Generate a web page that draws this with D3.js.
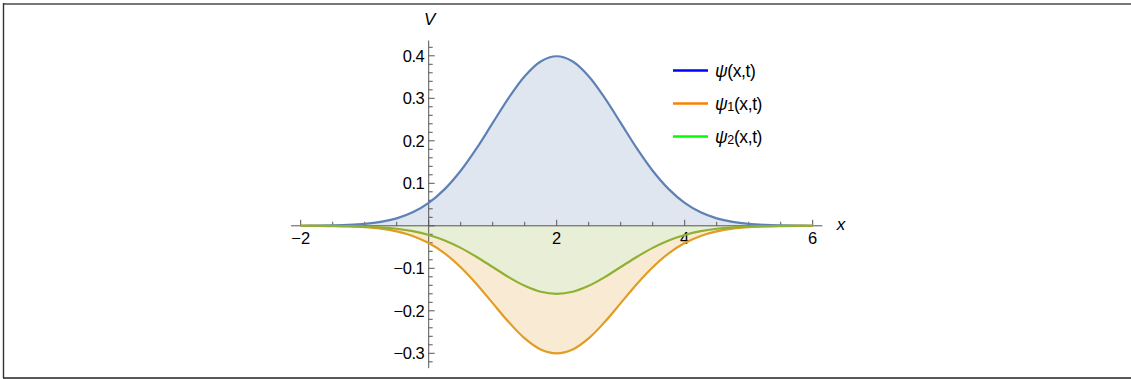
<!DOCTYPE html>
<html><head><meta charset="utf-8">
<script src="https://cdn.jsdelivr.net/npm/d3@7"></script>
<style>
html,body{margin:0;padding:0;background:#fff;}
svg{display:block;}
text{font-family:"Liberation Sans",Arial,sans-serif;}
</style></head>
<body>
<svg id="chart" width="1131" height="379"></svg>
<script>
// ---- data ----
const xs = [-2,-1.75,-1.5,-1.25,-1,-0.75,-0.5,-0.25,0,0.25,0.5,0.75,1,1.25,1.5,1.75,2,
            2.25,2.5,2.75,3,3.25,3.5,3.75,4,4.25,4.5,4.75,5,5.25,5.5,5.75,6];
const psi  = [0.0001,0.0004,0.0009,0.0020,0.0044,0.0091,0.0175,0.0317,0.0540,0.0863,0.1295,0.1826,0.2420,0.3011,0.3521,0.3867,0.3989,
              0.3867,0.3521,0.3011,0.2420,0.1826,0.1295,0.0863,0.0540,0.0317,0.0175,0.0091,0.0044,0.0020,0.0009,0.0004,0.0001];
const psi1 = [-0.0001,-0.0003,-0.0007,-0.0015,-0.0033,-0.0068,-0.0132,-0.0238,-0.0406,-0.0649,-0.0974,-0.1373,-0.1820,-0.2264,-0.2648,-0.2908,-0.3000,
              -0.2908,-0.2648,-0.2264,-0.1820,-0.1373,-0.0974,-0.0649,-0.0406,-0.0238,-0.0132,-0.0068,-0.0033,-0.0015,-0.0007,-0.0003,-0.0001];
const psi2 = [-0.0001,-0.0002,-0.0003,-0.0008,-0.0018,-0.0036,-0.0070,-0.0127,-0.0217,-0.0346,-0.0519,-0.0733,-0.0970,-0.1208,-0.1412,-0.1551,-0.1600,
              -0.1551,-0.1412,-0.1208,-0.0970,-0.0733,-0.0519,-0.0346,-0.0217,-0.0127,-0.0070,-0.0036,-0.0018,-0.0008,-0.0003,-0.0002,-0.0001];
const xTicks = [-2,0,2,4,6];
const yTicks = [-0.3,-0.2,-0.1,0.1,0.2,0.3,0.4];
const seriesNames = ["ψ","ψ","ψ"];
const seriesSubs = ["","1","2"];
const lineColors = ["#5E81B5","#E19C24","#8FB032"];
const legendColors = ["#0000FF","#FF8000","#00FF00"];

// ---- layout ----
const svg = d3.select("#chart");
const x = d3.scaleLinear().domain([-2.15, 6.15]).range([428.7 - 64*2.15, 428.7 + 64*6.15]);
const y = d3.scaleLinear().domain([-0.335, 0.436]).range([225.8 + 425*0.335, 225.8 - 425*0.436]);

// frame
svg.append("line").attr("x1",3).attr("x2",1131).attr("y1",4).attr("y2",4).attr("stroke","#777").attr("stroke-width",2);
svg.append("line").attr("x1",3.5).attr("x2",3.5).attr("y1",3).attr("y2",378).attr("stroke","#333").attr("stroke-width",1.4);
svg.append("line").attr("x1",3).attr("x2",1131).attr("y1",378).attr("y2",378).attr("stroke","#222").attr("stroke-width",1.5);

const series = [psi, psi1, psi2];
const cx = (d,i)=>x(xs[i]);
const curve = d3.curveCatmullRom;
// blue: to axis; orange: between ψ1 and ψ2; green: ψ2 to axis
const areaAxis = d3.area().x(cx).y0(y(0)).y1(d=>y(d)).curve(curve);
const areaBetween = d3.area().x(cx).y0((d,i)=>y(psi2[i])).y1(d=>y(d)).curve(curve);
const line = d3.line().x(cx).y(d=>y(d)).curve(curve);

svg.append("path").attr("d", areaAxis(psi)).attr("fill", lineColors[0]).attr("fill-opacity",0.2);
svg.append("path").attr("d", areaBetween(psi1)).attr("fill", lineColors[1]).attr("fill-opacity",0.2);
svg.append("path").attr("d", areaAxis(psi2)).attr("fill", lineColors[2]).attr("fill-opacity",0.2);

// axes
const axisColor = "#555";
const gx = svg.append("g").attr("transform",`translate(0,${y(0)})`);
gx.append("line").attr("x1",x.range()[0]).attr("x2",x.range()[1]).attr("stroke",axisColor).attr("stroke-width",1);
d3.range(-2,6.01,0.5).forEach(v=>{
  const major = xTicks.includes(v);
  gx.append("line").attr("x1",x(v)).attr("x2",x(v)).attr("y1",0).attr("y2",major?-6:-4)
    .attr("stroke",axisColor).attr("stroke-width",1);
});
gx.selectAll("text.xt").data(xTicks.filter(v=>v!==0)).join("text").attr("class","xt")
  .attr("x",d=>x(d)).attr("y",17.8).attr("text-anchor","middle").attr("font-size",16.5).attr("fill","#000")
  .text(d=>d<0?"\u2212"+Math.abs(d):d);

const gy = svg.append("g").attr("transform",`translate(${x(0)},0)`);
gy.append("line").attr("y1",y.range()[0]).attr("y2",y.range()[1]).attr("stroke",axisColor).attr("stroke-width",1);
d3.range(-0.32,0.4201,0.02).forEach(v=>{
  const r = Math.round(v*100)/100;
  const major = Math.abs(r*10 - Math.round(r*10))<1e-6;
  gy.append("line").attr("x1",0).attr("x2",major?6:4).attr("y1",y(r)).attr("y2",y(r))
    .attr("stroke",axisColor).attr("stroke-width",1);
});
gy.selectAll("text.yt").data(yTicks).join("text").attr("class","yt")
  .attr("x",-4.5).attr("y",d=>y(d)+6).attr("text-anchor","end").attr("font-size",16.5)
  .attr("letter-spacing","-0.5").attr("fill","#000")
  .text(d=>d<0?"\u2212"+d3.format(".1f")(Math.abs(d)):d3.format(".1f")(d));

// axis labels
svg.append("text").attr("x",x(0)+1).attr("y",25).attr("text-anchor","middle").attr("font-size",17)
  .attr("font-style","italic").text("V");
svg.append("text").attr("x",841).attr("y",230).attr("text-anchor","middle").attr("font-size",17)
  .attr("font-style","italic").text("x");

// curves
series.forEach((s,k)=>{
  svg.append("path").attr("d", line(s)).attr("fill","none").attr("stroke", lineColors[k]).attr("stroke-width",2.2)
    .attr("stroke-linejoin","round");
});

// legend
const lg = svg.append("g");
seriesNames.forEach((n,k)=>{
  const yy = 70.5 + k*33;
  lg.append("line").attr("x1",673).attr("x2",708).attr("y1",yy).attr("y2",yy)
    .attr("stroke",legendColors[k]).attr("stroke-width",2.6);
  const t = lg.append("text").attr("x",715).attr("y",yy+6).attr("font-size",17.5).attr("fill","#000")
    .attr("letter-spacing","-0.4");
  t.append("tspan").attr("font-style","italic").text(n);
  if (seriesSubs[k]) t.append("tspan").attr("font-size",12.5).attr("dy",1.5).text(seriesSubs[k]);
  t.append("tspan").attr("dy", seriesSubs[k]? -1.5 : 0).text("(x,t)");
});
</script>
</body></html>
